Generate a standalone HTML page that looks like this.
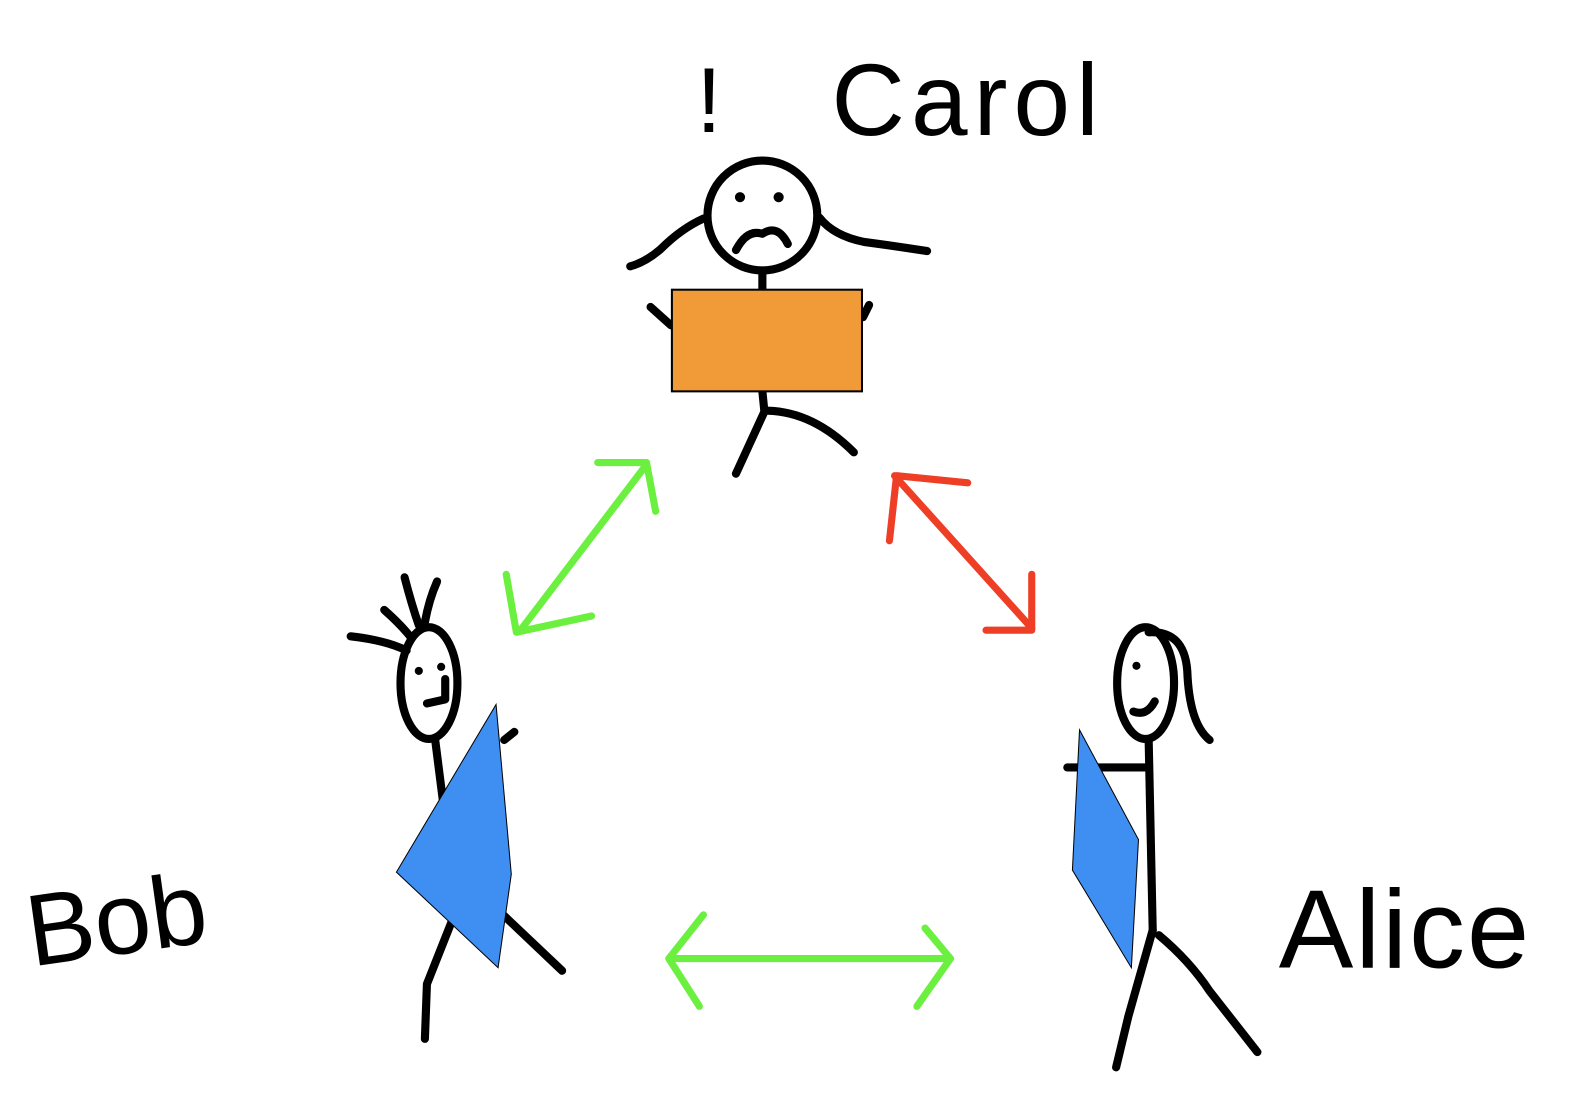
<!DOCTYPE html>
<html><head><meta charset="utf-8"><style>html,body{margin:0;padding:0;background:#fff;width:1592px;height:1094px;overflow:hidden}</style></head>
<body>
<svg width="1592" height="1094" viewBox="0 0 1592 1094" xmlns="http://www.w3.org/2000/svg">
<g transform="scale(1.0165)">
<g fill="none" stroke="#000" stroke-width="8" stroke-linecap="round" stroke-linejoin="round">
<circle cx="750" cy="212" r="54"/>
<path d="M692 215 Q670 225 650 245 Q635 258 620 262"/>
<path d="M806 214 Q820 232 850 238 Q880 242 912 247"/>
<path d="M724 246 Q735 225 750 230 Q765 220 775 240"/>
<path d="M750 266 L750 285"/>
<path d="M640 302 L660 320"/>
<path d="M855 300 L849 312"/>
<path d="M750 385 L752 405 L724 466"/>
<path d="M755 404 Q800 405 840 445"/>
<ellipse cx="422" cy="672" rx="28" ry="55"/>
<path d="M345 626 Q380 630 400 640"/>
<path d="M378 600 Q395 615 405 628"/>
<path d="M398 568 Q405 595 412 615"/>
<path d="M430 572 Q422 590 418 612"/>
<path d="M438 668 L438 688 L420 692"/>
<path d="M428 727 L436 790"/>
<path d="M496 728 L506 720"/>
<path d="M445 905 L420 968 L418 1022"/>
<path d="M495 900 L553 955"/>
<ellipse cx="1127" cy="672" rx="28" ry="55"/>
<path d="M1130 622 Q1165 620 1168 660 Q1170 712 1190 728"/>
<path d="M1115 700 Q1128 705 1136 690"/>
<path d="M1130 727 L1134 915"/>
<path d="M1050 755 L1130 755"/>
<path d="M1134 915 L1110 1000 L1098 1050"/>
<path d="M1140 920 Q1170 945 1190 975 L1237 1035"/>
</g>
<g fill="#000">
<circle cx="728" cy="194" r="5"/><circle cx="766" cy="194" r="5"/>
<circle cx="412" cy="660" r="4"/><circle cx="434" cy="656" r="4"/>
<circle cx="1118" cy="655" r="4"/>
</g>
<rect x="661" y="285" width="187" height="100" fill="#F09A38" stroke="#000" stroke-width="2"/>
<polygon points="390,858 488,693 503,860 490,952" fill="#3F8FF2" stroke="#000" stroke-width="1"/>
<polygon points="1062,718 1120,826 1113,952 1055,856" fill="#3F8FF2" stroke="#000" stroke-width="1"/>
<g fill="none" stroke-width="7" stroke-linecap="round" stroke-linejoin="round">
<g stroke="#6CF040">
<path d="M512 620 L636 457"/>
<path d="M588 455 L636 455 L645 503"/>
<path d="M498 565 L508 622 L582 606"/>
<path d="M658 943 L935 943"/>
<path d="M692 900 L658 943 L688 990"/>
<path d="M910 913 L935 943 L902 990"/>
</g>
<g stroke="#EE3E25">
<path d="M880 468 L1015 618"/>
<path d="M875 532 L882 468 L952 475"/>
<path d="M970 620 L1015 620 L1015 565"/>
</g>
</g>
<g font-family="Liberation Sans, sans-serif" fill="#000">
<text x="685" y="130" font-size="90">!</text>
<text x="818" y="133" font-size="100" letter-spacing="6">Carol</text>
<text x="25" y="938" font-size="100" transform="rotate(-8 120 900)">Bob</text>
<text x="1258" y="952" font-size="110" letter-spacing="2">Alice</text>
</g>
</g>
</svg>
</body></html>
